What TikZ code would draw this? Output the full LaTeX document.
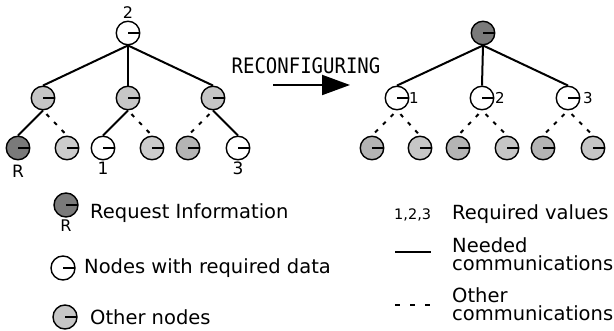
\documentclass[tikz,border=0pt]{standalone}
\usepackage{fontspec}
\setmainfont{DejaVu Sans}
\newfontfamily\monofont{DejaVu Sans Mono}
\usetikzlibrary{arrows.meta}
\definecolor{dkg}{HTML}{7A7A7A}
\definecolor{mdg}{HTML}{B4B4B4}
\definecolor{ltg}{HTML}{C6C6C6}
\tikzset{
  nd/.style={circle, draw=black, line width=1.4pt, minimum size=23.5pt, inner sep=0pt,
    path picture={\draw[line width=1.4pt] (path picture bounding box.center) -- (path picture bounding box.east);}},
  lnd/.style={nd, minimum size=24pt},
  edge/.style={line width=2pt},
  dedge/.style={line width=2pt, dash pattern=on 4pt off 7pt, dash phase=6pt},
  lbl/.style={font=\fontsize{17}{17}\selectfont, inner sep=0pt},
  txt/.style={font=\fontsize{19.5}{18}\selectfont, inner sep=0pt, anchor=west, align=left},
}
\begin{document}
\begin{tikzpicture}[x=1pt,y=-1pt]
\useasboundingbox (0,0) rectangle (614,331);
% left tree
\node[nd, fill=white] (L0) at (128,33) {};
\node[nd, fill=ltg] (L1) at (43,98) {};
\node[nd, fill=ltg] (L2) at (128,98) {};
\node[nd, fill=ltg] (L3) at (213,98) {};
\node[nd, fill=dkg] (La) at (18,148) {};
\node[nd, fill=ltg!90!white] (Lb) at (67,148) {};
\node[nd, fill=white] (Lc) at (103,148) {};
\node[nd, fill=ltg!90!white] (Ld) at (152,148) {};
\node[nd, fill=mdg] (Le) at (188,148) {};
\node[nd, fill=white] (Lf) at (238,148) {};
\node[lbl, font=\fontsize{16}{16}\selectfont] (t2) at (128,13) {2};
\node[lbl] (tR) at (18,171) {R};
\node[lbl] (t1) at (103,168) {1};
\node[lbl] (t3) at (238,168) {3};
\draw[edge] (L0.south) -- (L1.north);
\draw[edge] (L0.south) -- (L2.north);
\draw[edge] (L0.south) -- (L3.north);
\draw[edge] (L1.south) -- (La.north);
\draw[dedge] (L1.south) -- (Lb.north);
\draw[edge] (L2.south) -- (Lc.north);
\draw[dedge] (L2.south) -- (Ld.north);
\draw[dedge] (L3.south) -- (Le.north);
\draw[edge] (L3.south) -- (Lf.north);
% arrow
\node[inner sep=0pt, font=\monofont\fontsize{19}{19}\selectfont] (rc) at (306,66) {\scalebox{1}[1.12]{RECONFIGURING}};
\coordinate (aS) at (273,85);
\coordinate (aE) at (350,85);
\draw[line width=2pt, -{Triangle[length=28pt,width=20pt]}] (aS) -- (aE);
% right tree
\node[nd, fill=dkg] (R0) at (483,33) {};
\node[nd, fill=white] (R1) at (397,98) {};
\node[nd, fill=white] (R2) at (482,98) {};
\node[nd, fill=white] (R3) at (568,98) {};
\node[lbl, font=\fontsize{15}{15}\selectfont] (r1) at (414,98) {1};
\node[lbl, font=\fontsize{15}{15}\selectfont] (r2) at (500,98) {2};
\node[lbl, font=\fontsize{15}{15}\selectfont] (r3) at (588,98) {3};
\node[nd, fill=mdg] (Ra) at (372,148) {};
\node[nd, fill=ltg] (Rb) at (420,148) {};
\node[nd, fill=mdg] (Rc) at (458,148) {};
\node[nd, fill=ltg] (Rd) at (507,148) {};
\node[nd, fill=mdg] (Re) at (543,148) {};
\node[nd, fill=ltg] (Rf) at (593,148) {};
\draw[edge] (R0.south) -- (R1.north);
\draw[edge] (R0.south) -- (R2.north);
\draw[edge] (R0.south) -- (R3.north);
\draw[dedge] (R1.south) -- (Ra.north);
\draw[dedge] (R1.south) -- (Rb.north);
\draw[dedge] (R2.south) -- (Rc.north);
\draw[dedge] (R2.south) -- (Rd.north);
\draw[dedge] (R3.south) -- (Re.north);
\draw[dedge] (R3.south) -- (Rf.north);
% legend left
\node[lnd, fill=dkg] (gd) at (66,205) {};
\node[lbl, font=\fontsize{16}{16}\selectfont] (gR) at (66,226) {R};
\node[txt] (gdt) at (90,213) {Request Information};
\node[lnd, fill=white] (gw) at (63,268) {};
\node[txt] (gwt) at (84,268) {Nodes with required data};
\node[lnd, fill=ltg] (gg) at (65,317) {};
\node[txt] (ggt) at (90,317) {Other nodes};
% legend right
\node[lbl, font=\fontsize{14.5}{14.5}\selectfont, anchor=west] (v123) at (394,215) {1,2,3};
\node[txt] (vt) at (452,214) {Required values};
\coordinate (s1) at (395,252);
\coordinate (s2) at (431,252);
\draw[line width=2pt] (s1) -- (s2);
\node[txt] (st) at (452,254) {Needed\\communications};
\coordinate (d1) at (395,305);
\coordinate (d2) at (431,305);
\draw[line width=2pt, dash pattern=on 5pt off 10pt] (d1) -- (d2);
\node[txt] (dt) at (452,304) {Other\\communications};
\end{tikzpicture}
\end{document}
